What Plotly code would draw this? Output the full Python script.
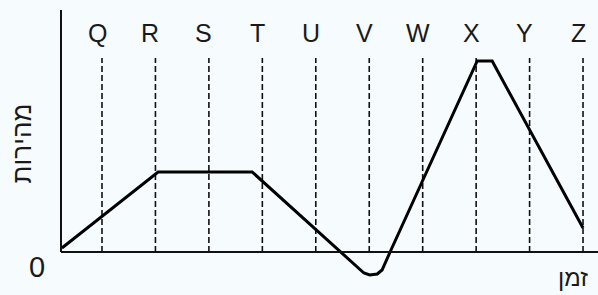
import plotly.graph_objects as go

# Moment labels (vertical dashed lines at t = 1..10)
labels = ["Q", "R", "S", "T", "U", "V", "W", "X", "Y", "Z"]
label_t = [1, 2, 3, 4, 5, 6, 7, 8, 9, 10]

# Velocity curve (time units, velocity units)
curve_t = [0.25, 2.05, 3.81, 5.45, 5.77, 5.90, 6.01, 6.15, 6.24, 6.39, 8.02, 8.30, 10.0]
curve_v = [0.2, 4.0, 4.0, 0.0, -0.75, -1.05, -1.15, -1.1, -0.9, 0.0, 9.55, 9.55, 1.2]

dash_top = 9.7
x_range = [0.233, 10.28]
y_range = [-1.65, 12.1]

bg = "#f6fbfe"
font = "Liberation Sans, Arial, DejaVu Sans, sans-serif"

fig = go.Figure()

shapes = []
for t in label_t:
    shapes.append(dict(type="line", xref="x", yref="y", x0=t, x1=t, y0=0, y1=dash_top,
                       line=dict(color="#111", width=1.6, dash="6px,3px"), layer="below"))
# axes
shapes.append(dict(type="line", xref="paper", yref="y", x0=0, x1=1, y0=0, y1=0,
                   line=dict(color="#111", width=2)))
shapes.append(dict(type="line", xref="paper", yref="paper", x0=0, x1=0,
                   y0=(0 - y_range[0]) / (y_range[1] - y_range[0]), y1=1,
                   line=dict(color="#111", width=2)))

fig.add_trace(go.Scatter(x=curve_t, y=curve_v, mode="lines",
                         line=dict(color="#000", width=3), hoverinfo="skip", showlegend=False))

annotations = []
for lab, t in zip(labels, label_t):
    annotations.append(dict(x=t, y=10.95, xref="x", yref="y", text=lab, showarrow=False,
                            xshift=-5, xanchor="center", yanchor="middle",
                            font=dict(family=font, size=25, color="#1a1a1a")))
annotations.append(dict(x=-0.0735, y=0.513, xref="paper", yref="paper", text="מהירות",
                        textangle=-90, showarrow=False, xanchor="center", yanchor="middle",
                        font=dict(family=font, size=26, color="#1a1a1a")))
annotations.append(dict(x=-0.0452, y=0.064, xref="paper", yref="paper", text="0",
                        showarrow=False, xanchor="center", yanchor="middle",
                        font=dict(family=font, size=29, color="#1a1a1a")))
annotations.append(dict(x=0.953, y=0.029, xref="paper", yref="paper", text="זמן",
                        showarrow=False, xanchor="center", yanchor="middle",
                        font=dict(family=font, size=24, color="#1a1a1a")))

fig.update_layout(
    width=598, height=295,
    margin=dict(l=61, r=0, t=10, b=10),
    paper_bgcolor=bg, plot_bgcolor=bg,
    xaxis=dict(range=x_range, visible=False, fixedrange=True),
    yaxis=dict(range=y_range, visible=False, fixedrange=True),
    shapes=shapes, annotations=annotations,
)

fig.write_html("out.html", config={"displayModeBar": False, "staticPlot": True},
               post_script="document.body.style.margin='0';document.body.style.overflow='hidden';")
